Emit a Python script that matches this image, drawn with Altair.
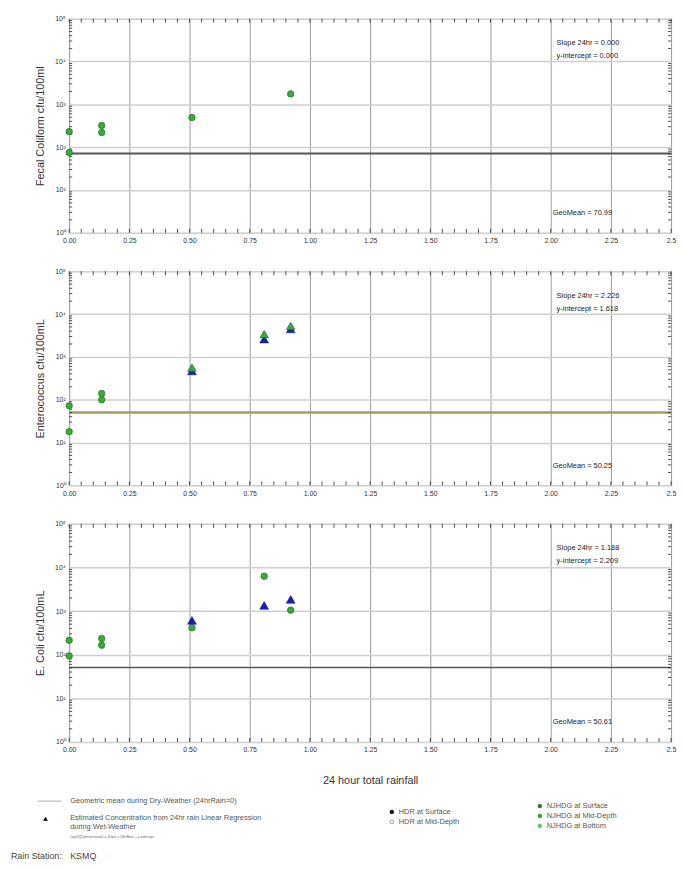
import altair as alt
import pandas as pd

# ---------------- data ----------------
X_TICKS = [0.0, 0.25, 0.5, 0.75, 1.0, 1.25, 1.5, 1.75, 2.0, 2.25, 2.5]
Y_TICKS = [1, 10, 100, 1000, 10000, 100000]
X_MINOR = [round(i * 0.05, 2) for i in range(51)]
Y_MINOR = [m * 10 ** k for k in range(5) for m in range(2, 10)]

# Fecal coliform (green NJHDG samples)
fc_rain = [0.0, 0.0, 0.135, 0.135, 0.51, 0.92]
fc_conc = [230, 75, 320, 220, 490, 1750]
fc_geomean = 70.99
fc_stats = ["Slope 24hr = 0.000", "y-intercept = 0.000", "GeoMean = 70.99"]

# Enterococcus
ent_rain = [0.0, 0.0, 0.135, 0.135]
ent_conc = [18, 72, 140, 100]
ent_est_rain = [0.51, 0.81, 0.92]
ent_est_conc = [470, 2600, 4500]
ent_tri_rain = [0.51, 0.81, 0.92]
ent_tri_conc = [560, 3400, 5300]
ent_geomean = 50.25
ent_stats = ["Slope 24hr = 2.226", "y-intercept = 1.618", "GeoMean = 50.25"]

# E. coli
ec_rain = [0.0, 0.0, 0.135, 0.135, 0.51, 0.81, 0.92]
ec_conc = [214, 94, 165, 235, 415, 6300, 1050]
ec_est_rain = [0.51, 0.81, 0.92]
ec_est_conc = [610, 1350, 1850]
ec_geomean = 50.61
ec_stats = ["Slope 24hr = 1.188", "y-intercept = 2.209", "GeoMean = 50.61"]

Y_TITLES = ["Fecal Coliform cfu/100ml", "Enterococcus cfu/100mL", "E. Coli cfu/100mL"]
X_TITLE = "24 hour total rainfall"

LEGEND_LINE_LABEL = "Geometric mean during Dry-Weather (24hrRain=0)"
LEGEND_TRI_LABEL = ["Estimated Concentration from 24hr rain Linear Regression", "during Wet-Weather"]
LEGEND_TRI_NOTE = "Log10(Concentration) = Slope x 24hrRain + y-intercept"
HDR_LABELS = ["HDR at Surface", "HDR at Mid-Depth"]
NJHDG_LABELS = ["NJHDG at Surface", "NJHDG at Mid-Depth", "NJHDG at Bottom"]
RAIN_STATION = ["Rain Station:", "KSMQ"]

# ---------------- styling ----------------
W = 610
H = 217
H3 = 221
GREEN = "#3aaa3a"
DKGREEN = "#1e7a22"
BLUE = "#1c1ca8"
FONT = "Liberation Sans"

XSCALE = alt.Scale(domain=[0, 2.5], nice=False, zero=False)
YSCALE = alt.Scale(type="log", domain=[1, 100000], nice=False)


def x_axis(title):
    kw = dict(
        values=X_TICKS,
        labelExpr="datum.value == 2.5 ? '2.5' : format(datum.value, '.2f')",
        grid=True, gridColor="#9a9a9a", gridWidth=1,
        tickSize=0, labelFontSize=7, labelPadding=4, labelColor="#333",
        domain=False, labelFont=FONT, labelFlush=False,
    )
    if title:
        kw.update(title=title, titleFontSize=11, titleFontWeight="normal",
                  titleColor="#333", titlePadding=22, titleFont=FONT)
    else:
        kw.update(title=None)
    return alt.Axis(**kw)


def y_axis(title):
    return alt.Axis(
        values=Y_TICKS,
        labelExpr="'10' + ['\u2070','\u00b9','\u00b2','\u00b3','\u2074','\u2075'][round(log(datum.value)/LN10)]",
        grid=True, gridColor="#cfcfcf", gridWidth=1.5,
        tickSize=0, labelFontSize=7, labelPadding=4, labelColor="#333",
        domain=False, title=title, titleFontSize=11, titleFontWeight="normal",
        titleColor="#333", titlePadding=9, labelFont=FONT, titleFont=FONT,
        labelFlush=False,
    )


def label_layer(text, x, y, size=7.5, color="#222", align="left", weight="normal"):
    return alt.Chart(pd.DataFrame({"label": [text]})).mark_text(
        align=align, baseline="middle", fontSize=size, color=color,
        fontWeight=weight, font=FONT,
    ).encode(x=alt.value(x), y=alt.value(y), text="label:N")


def symbol_layer(shape, x, y, fill, stroke, size, filled=True):
    return alt.Chart(pd.DataFrame({"k": [0]})).mark_point(
        shape=shape, filled=filled, fill=fill, stroke=stroke, strokeWidth=0.8,
        size=size, opacity=1,
    ).encode(x=alt.value(x), y=alt.value(y))


def panel(ytitle, xtitle, rain, conc, est_rain, est_conc, tri_rain, tri_conc,
          geomean, gm_color, gm_width, stats, height, extra=()):
    xa = x_axis(xtitle)
    ya = y_axis(ytitle)

    def X(field):
        return alt.X(f"{field}:Q", scale=XSCALE, axis=xa)

    def Y(field):
        return alt.Y(f"{field}:Q", scale=YSCALE, axis=ya)

    pts = pd.DataFrame({"rain": rain, "conc": conc})
    base = alt.Chart(pts).mark_point(
        shape="circle", filled=True, fill=GREEN, stroke=DKGREEN,
        strokeWidth=0.8, size=42, opacity=1,
    ).encode(x=X("rain"), y=Y("conc"))

    gm = alt.Chart(pd.DataFrame({"conc": [geomean]})).mark_rule(
        color=gm_color, strokeWidth=gm_width
    ).encode(y=Y("conc"))

    xm = pd.DataFrame({"rain": X_MINOR})
    ym = pd.DataFrame({"conc": Y_MINOR})
    ticks = [
        alt.Chart(xm).mark_rule(color="#222", strokeWidth=0.8).encode(
            x=X("rain"), y=alt.value(0), y2=alt.value(4)),
        alt.Chart(xm).mark_rule(color="#222", strokeWidth=0.8).encode(
            x=X("rain"), y=alt.value(height), y2=alt.value(height - 4)),
        alt.Chart(ym).mark_rule(color="#222", strokeWidth=0.8).encode(
            y=Y("conc"), x=alt.value(0), x2=alt.value(3)),
        alt.Chart(ym).mark_rule(color="#222", strokeWidth=0.8).encode(
            y=Y("conc"), x=alt.value(W), x2=alt.value(W - 3)),
    ]

    layers = [gm] + ticks + [base]
    if est_rain:
        est = pd.DataFrame({"rain": est_rain, "conc": est_conc})
        layers.append(alt.Chart(est).mark_point(
            shape="triangle-up", filled=True, fill=BLUE, stroke=BLUE,
            strokeWidth=0.6, size=80, opacity=1,
        ).encode(x=X("rain"), y=Y("conc")))
    if tri_rain:
        tri = pd.DataFrame({"rain": tri_rain, "conc": tri_conc})
        layers.append(alt.Chart(tri).mark_point(
            shape="triangle-up", filled=True, fill=GREEN, stroke=DKGREEN,
            strokeWidth=0.8, size=70, opacity=1,
        ).encode(x=X("rain"), y=Y("conc")))

    layers += [
        label_layer(stats[0], 494, 25),
        label_layer(stats[1], 494, 38),
        label_layer(stats[2], 490, height - 20),
    ]
    layers += list(extra)
    return alt.layer(*layers).properties(width=W, height=height)


# legend placed under the last panel (pixel offsets relative to its plot area)
legend_layers = [
    alt.Chart(pd.DataFrame({"k": [0]})).mark_rule(color="#999", strokeWidth=0.8).encode(
        x=alt.value(-32), x2=alt.value(-8), y=alt.value(281)),
    label_layer(LEGEND_LINE_LABEL, 1, 281, size=7.5, color="#555"),
    symbol_layer("triangle-up", -24, 299, "#111", "#111", 14),
    label_layer(LEGEND_TRI_LABEL[0], 1, 298, size=7.5, color="#555"),
    label_layer(LEGEND_TRI_LABEL[1], 1, 307, size=7.5, color="#555"),
    label_layer(LEGEND_TRI_NOTE, 1, 317, size=3.5, color="#666"),
    symbol_layer("circle", 327, 292, "#111", "#111", 14),
    label_layer(HDR_LABELS[0], 334, 292, size=7.5, color="#555"),
    symbol_layer("circle", 327, 302, "white", "#888", 14, filled=False),
    label_layer(HDR_LABELS[1], 334, 302, size=7.5, color="#555"),
    symbol_layer("circle", 477, 286, "#2a6f2a", "#2a6f2a", 14),
    label_layer(NJHDG_LABELS[0], 484, 286, size=7.5, color="#555"),
    symbol_layer("circle", 477, 296, "#3a9a3a", "#3a9a3a", 14),
    label_layer(NJHDG_LABELS[1], 484, 296, size=7.5, color="#555"),
    symbol_layer("circle", 477, 306, "#66c266", "#66c266", 14),
    label_layer(NJHDG_LABELS[2], 484, 306, size=7.5, color="#555"),
    label_layer(RAIN_STATION[0], -59, 337, size=9, color="#444"),
    label_layer(RAIN_STATION[1], 1, 337, size=9, color="#444"),
]

p1 = panel(Y_TITLES[0], None, fc_rain, fc_conc, [], [], [], [],
           fc_geomean, "#555555", 2.2, fc_stats, H)
p2 = panel(Y_TITLES[1], None, ent_rain, ent_conc, ent_est_rain, ent_est_conc,
           ent_tri_rain, ent_tri_conc, ent_geomean, "#a8986a", 2.5, ent_stats, H)
p3 = panel(Y_TITLES[2], X_TITLE, ec_rain, ec_conc, ec_est_rain, ec_est_conc, [], [],
           ec_geomean, "#555555", 1.6, ec_stats, H3, extra=legend_layers)

chart = alt.vconcat(p1, p2, p3, spacing=22).properties(
    padding={"left": 2, "top": 0, "right": 0, "bottom": 0}
).configure_view(stroke="#222", strokeWidth=1).configure(font=FONT, background="white")

chart.save("out.html", embed_options={"renderer": "svg", "actions": False})
